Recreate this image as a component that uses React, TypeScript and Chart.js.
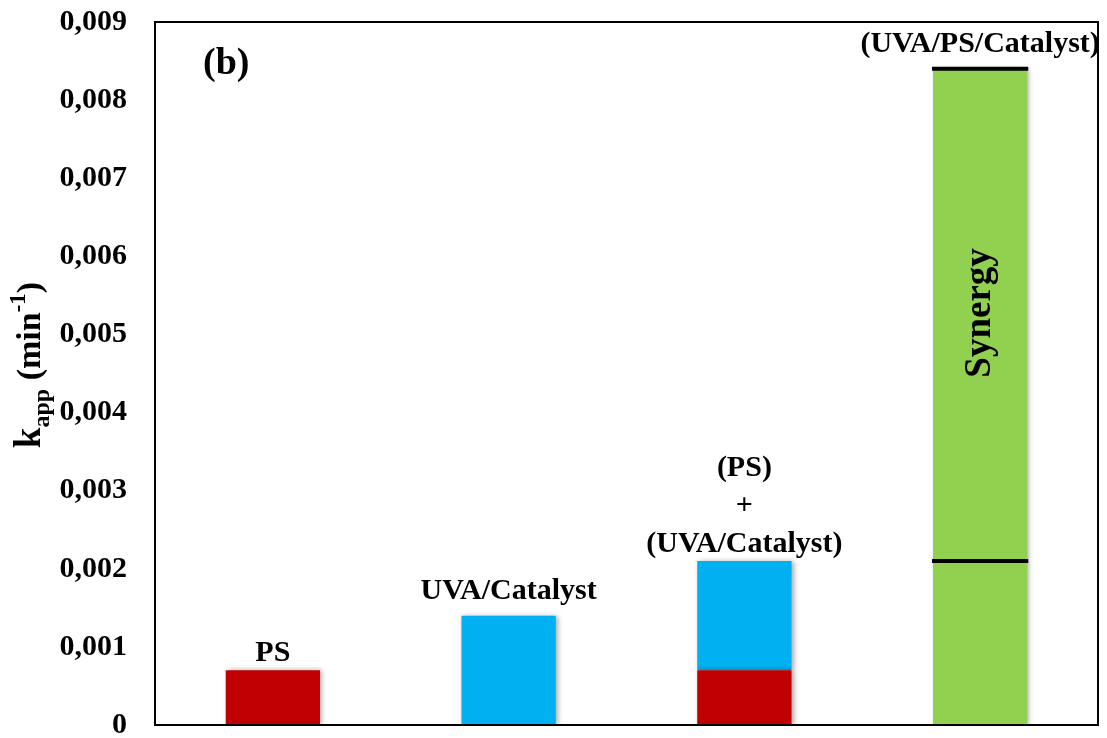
import React, { useEffect, useRef } from "react";
import { Chart, registerables } from "chart.js";

Chart.register(...registerables);

// ---- data ----
const categories = ["PS", "UVA/Catalyst", "(PS)+(UVA/Catalyst)", "(UVA/PS/Catalyst)"];
const psValues = [0.0007, null, 0.0007, null];
const uvaCatalystValues = [null, 0.0014, 0.0014, null];
const synergyValues = [null, null, null, 0.0084];
const markerValues = [0.0021, 0.0084];
const markerCategoryIndex = 3;
const barLabels = [["PS"], ["UVA/Catalyst"], ["(PS)", "+", "(UVA/Catalyst)"], ["(UVA/PS/Catalyst)"]];
const yTickLabels = ["0", "0,001", "0,002", "0,003", "0,004", "0,005", "0,006", "0,007", "0,008", "0,009"];
const panelLabel = "(b)";
const innerLabel = "Synergy";

const SERIF = "'Liberation Serif', 'Times New Roman', serif";
const LABEL_GAPS = [17, 24, 17, 25];

const framePlugin = {
  id: "frame",
  beforeDatasetsDraw(chart: any) {
    const ctx = chart.ctx;
    ctx.save();
    ctx.shadowColor = "rgba(0,0,0,0.35)";
    ctx.shadowBlur = 5;
    ctx.shadowOffsetX = 2;
    ctx.shadowOffsetY = 0;
  },
  afterDatasetsDraw(chart: any) {
    const ctx = chart.ctx;
    ctx.restore();
    const { left, right, top, bottom } = chart.chartArea;
    const x = chart.scales.x;
    const y = chart.scales.y;

    // frame
    ctx.save();
    ctx.strokeStyle = "#000";
    ctx.lineWidth = 2;
    ctx.strokeRect(left, top, right - left, bottom - top);
    ctx.restore();

    // marker lines on synergy bar
    const meta = chart.getDatasetMeta(2);
    const bar: any = meta.data[markerCategoryIndex];
    const halfW = bar.width / 2;
    ctx.save();
    ctx.strokeStyle = "#000";
    ctx.lineWidth = 4;
    markerValues.forEach((v) => {
      const py = y.getPixelForValue(v);
      ctx.beginPath();
      ctx.moveTo(bar.x - halfW - 1, py);
      ctx.lineTo(bar.x + halfW + 1, py);
      ctx.stroke();
    });
    ctx.restore();

    // labels above bars
    ctx.save();
    ctx.fillStyle = "#000";
    ctx.font = `bold 30px ${SERIF}`;
    ctx.textAlign = "center";
    ctx.textBaseline = "middle";
    barLabels.forEach((lines, i) => {
      const total =
        (psValues[i] || 0) + (uvaCatalystValues[i] || 0) + (synergyValues[i] || 0);
      const px = x.getPixelForValue(i);
      const topPx = y.getPixelForValue(total);
      const n = lines.length;
      lines.forEach((line, j) => {
        const py = topPx - LABEL_GAPS[i] - (n - 1 - j) * 38;
        ctx.fillText(line, px, py);
      });
    });

    // synergy inside label
    const synTop = y.getPixelForValue(markerValues[1]);
    const synBottom = y.getPixelForValue(markerValues[0]);
    ctx.save();
    ctx.translate(bar.x, (synTop + synBottom) / 2 - 2);
    ctx.rotate(-Math.PI / 2);
    ctx.font = `bold 37px ${SERIF}`;
    ctx.fillText(innerLabel, 0, 0);
    ctx.restore();

    // panel label
    ctx.font = `bold 38px ${SERIF}`;
    ctx.textAlign = "left";
    ctx.fillText(panelLabel, left + 48, top + 42);

    ctx.restore();

    // y axis title: k_app (min^-1)
    ctx.save();
    ctx.fillStyle = "#000";
    ctx.translate(28, 365);
    ctx.rotate(-Math.PI / 2);
    ctx.textBaseline = "alphabetic";
    const parts = [
      { t: "k", f: `bold 37px ${SERIF}`, dy: 0 },
      { t: "app", f: `bold 24px ${SERIF}`, dy: 9 },
      { t: " (min", f: `bold 34px ${SERIF}`, dy: 0 },
      { t: "-1", f: `bold 23px ${SERIF}`, dy: -15 },
      { t: ")", f: `bold 34px ${SERIF}`, dy: 0 },
    ];
    let totalW = 0;
    parts.forEach((p) => {
      ctx.font = p.f;
      totalW += ctx.measureText(p.t).width;
    });
    let cx = -totalW / 2;
    ctx.textAlign = "left";
    parts.forEach((p) => {
      ctx.font = p.f;
      ctx.fillText(p.t, cx, 12 + p.dy);
      cx += ctx.measureText(p.t).width;
    });
    ctx.restore();
  },
};

export default function App() {
  const ref = useRef<HTMLCanvasElement | null>(null);

  useEffect(() => {
    document.body.style.margin = "0";
    if (!ref.current) return;
    const chart = new Chart(ref.current, {
      type: "bar",
      data: {
        labels: categories,
        datasets: [
          { label: "PS", data: psValues as any, backgroundColor: "#C00000" },
          { label: "UVA/Catalyst", data: uvaCatalystValues as any, backgroundColor: "#00B0F0" },
          { label: "Synergy", data: synergyValues as any, backgroundColor: "#92D050" },
        ],
      },
      options: {
        animation: false,
        responsive: false,
        maintainAspectRatio: false,
        layout: { padding: { left: 0, right: 9, top: 22, bottom: 13 } },
        datasets: { bar: { barPercentage: 0.4, categoryPercentage: 1 } },
        plugins: { legend: { display: false }, tooltip: { enabled: false } },
        scales: {
          x: { display: false, stacked: true },
          y: {
            stacked: true,
            min: 0,
            max: 0.009,
            afterFit: (s: any) => {
              s.width = 155;
              s.paddingTop = 0;
              s.paddingBottom = 0;
            },
            grid: { display: false, drawTicks: false },
            border: { display: false },
            ticks: {
              stepSize: 0.001,
              padding: 28,
              color: "#000",
              font: { family: SERIF, size: 30, weight: "bold" },
              callback: (_v: any, i: number) => yTickLabels[i],
            },
          },
        },
      },
      plugins: [framePlugin],
    });
    return () => chart.destroy();
  }, []);

  return (
    <div style={{ position: "absolute", left: 0, top: 0, width: 1107, height: 738 }}>
      <canvas ref={ref} width={1107} height={738} style={{ width: 1107, height: 738 }} />
    </div>
  );
}
